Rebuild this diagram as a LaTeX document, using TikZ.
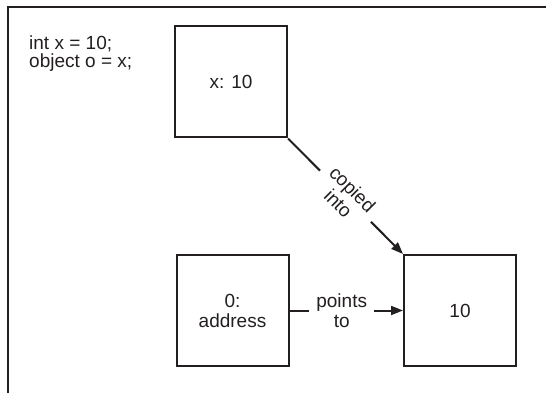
\documentclass[tikz,border=0pt]{standalone}
\usepackage{fontspec}
\setmainfont{Liberation Sans}
\usetikzlibrary{arrows.meta}
\definecolor{ink}{HTML}{231F20}
\begin{document}
\begin{tikzpicture}[x=1pt,y=-1pt,
  every node/.style={font=\fontsize{19}{20}\selectfont, text=ink},
  cell/.style={draw=ink, line width=2pt, minimum width=112pt, minimum height=111pt, align=center, inner sep=0pt},
  lbl/.style={fill=white, align=center, inner xsep=7pt, inner ysep=1pt},
  conn/.style={draw=ink, line width=2pt, -{Triangle[length=12pt,width=9pt]}}]
\useasboundingbox (0,0) rectangle (546,393);
\draw[ink, line width=2pt] (546,7.5) -- (7.5,7.5) -- (7.5,393);
\node[anchor=north west, inner sep=0pt, align=left, font=\fontsize{19}{18}\selectfont] (code) at (29,36) {int x = 10;\\object o = x;};
\node[cell] (x) at (231,82) {x: 10};
\node[cell] (addr) at (232.5,310.5) {0:\\address};
\node[cell] (val) at (460,310.5) {10};
\draw[conn] (x.south east) -- node[lbl, sloped, midway, inner xsep=8pt] (cp) {copied\\into} (val.north west);
\draw[conn] (addr.east) -- node[lbl, pos=0.46] (pt) {points\\to} (val.west);
\end{tikzpicture}
\end{document}
